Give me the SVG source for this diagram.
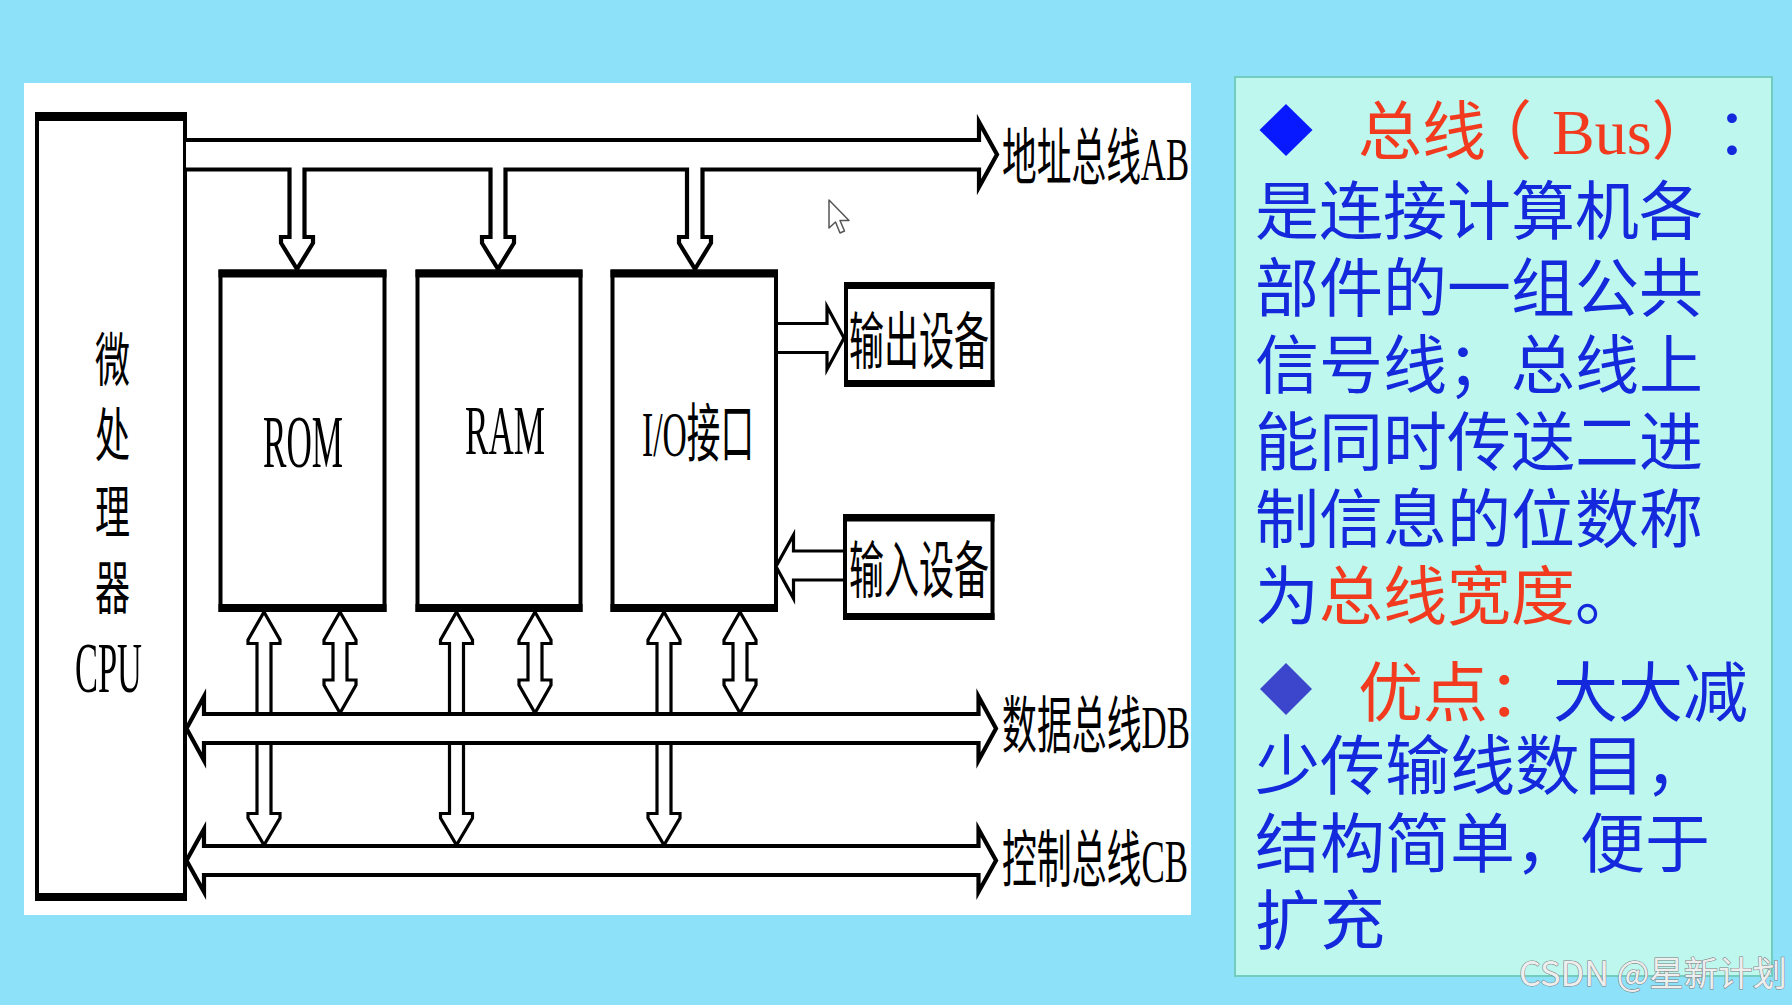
<svg xmlns="http://www.w3.org/2000/svg" width="1792" height="1005" viewBox="0 0 1792 1005">
<defs>
<style>
.ln{fill:#fff;stroke:#000;stroke-width:3.2;stroke-linejoin:miter;stroke-miterlimit:10}
.bus{fill:#fff;stroke:#000;stroke-width:4.2;stroke-linejoin:miter;stroke-miterlimit:10}
.box{fill:#fff;stroke:#000;stroke-width:4}
.bar{fill:#000}
.lbl{font-family:"Liberation Serif","Noto Sans CJK SC",serif;fill:#000}
.txt{font-family:"Noto Sans CJK SC",sans-serif;font-size:64px;fill:#1428DC}
.red{fill:#F23A1E}
</style>
</defs>
<rect x="0" y="0" width="1792" height="1005" fill="#8DE2FA"/>
<rect x="24" y="83" width="1167" height="832" fill="#fff"/>

<g id="node-cpu">
<rect class="box" x="37" y="114" width="148" height="785"/>
<rect class="bar" x="35" y="112" width="152" height="9"/>
<rect class="bar" x="35" y="893" width="152" height="8"/>
<text class="lbl" x="95" y="381" font-size="58" textLength="35" lengthAdjust="spacingAndGlyphs">微</text>
<text class="lbl" x="95" y="456" font-size="58" textLength="35" lengthAdjust="spacingAndGlyphs">处</text>
<text class="lbl" x="95" y="533" font-size="58" textLength="35" lengthAdjust="spacingAndGlyphs">理</text>
<text class="lbl" x="95" y="609" font-size="58" textLength="35" lengthAdjust="spacingAndGlyphs">器</text>
<text class="lbl" x="75" y="692" font-size="71" textLength="67" lengthAdjust="spacingAndGlyphs">CPU</text>
</g>

<g id="node-rom">
<rect class="box" x="220.5" y="271.5" width="164" height="338.5"/>
<rect class="bar" x="218.5" y="269.5" width="168" height="8"/>
<rect class="bar" x="218.5" y="604" width="168" height="8"/>
<text class="lbl" x="263" y="467" font-size="74" textLength="80" lengthAdjust="spacingAndGlyphs">ROM</text>
</g>

<g id="node-ram">
<rect class="box" x="417.5" y="271.5" width="163" height="338.5"/>
<rect class="bar" x="415.5" y="269.5" width="167" height="8"/>
<rect class="bar" x="415.5" y="604" width="167" height="8"/>
<text class="lbl" x="465" y="454" font-size="70" textLength="80" lengthAdjust="spacingAndGlyphs">RAM</text>
</g>

<g id="node-io">
<rect class="box" x="612.5" y="271.5" width="163.5" height="338.5"/>
<rect class="bar" x="610.5" y="269.5" width="167.5" height="8"/>
<rect class="bar" x="610.5" y="604" width="167.5" height="8"/>
<text class="lbl" x="642" y="456" font-size="64" textLength="112" lengthAdjust="spacingAndGlyphs">I/O接口</text>
</g>

<g id="node-output">
<rect class="box" x="846" y="284" width="146.5" height="101"/>
<rect class="bar" x="844" y="282" width="150.5" height="7"/>
<rect class="bar" x="844" y="380" width="150.5" height="7"/>
<text class="lbl" x="849" y="364" font-size="62" textLength="140" lengthAdjust="spacingAndGlyphs">输出设备</text>
</g>

<g id="node-input">
<rect class="box" x="845" y="516" width="147.5" height="102"/>
<rect class="bar" x="843" y="514" width="151.5" height="7.5"/>
<rect class="bar" x="843" y="613" width="151.5" height="7"/>
<text class="lbl" x="849" y="593" font-size="62" textLength="140" lengthAdjust="spacingAndGlyphs">输入设备</text>
</g>

<g id="connectors">
<path class="ln" d="M264,612 L280,640 V643.5 H271 V813.5 H280 V818 L264,845 L248,818 V813.5 H257 V643.5 H248 V640 Z"/>
<path class="ln" d="M456.5,612 L472.5,640 V643.5 H463.5 V813.5 H472.5 V818 L456.5,845 L440.5,818 V813.5 H449.5 V643.5 H440.5 V640 Z"/>
<path class="ln" d="M664,612 L680,640 V643.5 H671 V813.5 H680 V818 L664,845 L648,818 V813.5 H657 V643.5 H648 V640 Z"/>
<path class="ln" d="M340,612 L356,640 V643.5 H347 V680 H356 V685 L340,713 L324,685 V680 H333 V643.5 H324 V640 Z"/>
<path class="ln" d="M535,612 L551,640 V643.5 H542 V680 H551 V685 L535,713 L519,685 V680 H528 V643.5 H519 V640 Z"/>
<path class="ln" d="M740,612 L756,640 V643.5 H747 V680 H756 V685 L740,713 L724,685 V680 H733 V643.5 H724 V640 Z"/>
<path class="bus" d="M204,714 H978.5 V696.5 L996,728.5 L978.5,760.5 V743 H204 V760.5 L186.5,728.5 L204,696.5 Z"/>
<path class="bus" d="M204,846 H978.5 V829 L996,860.5 L978.5,892 V875 H204 V892 L186.5,860.5 L204,829 Z"/>
<path class="bus" d="M186,169.5 H289.5 V237 H281 V243 L297,269 L313,243 V237 H304.5 V169.5 H490.5 V237 H482 V243 L498,269 L514,243 V237 H505.5 V169.5 H687 V237 H679 V243 L695,269 L711,243 V237 H702.5 V169.5 H979 V187 L997,154.5 L979,122 V140 H186"/>
<path class="ln" d="M778,323.5 H827 V306.5 L844,338 L827,369.5 V352.5 H778"/>
<path class="ln" d="M843,551 H793.5 V535 L776,566.5 L793.5,598.5 V580 H843"/>
<text class="lbl" font-size="62" transform="matrix(0.56,0,0,1,1002,180)">地址总线AB</text>
<text class="lbl" font-size="62" transform="matrix(0.563,0,0,1,1002,748)">数据总线DB</text>
<text class="lbl" font-size="62" transform="matrix(0.5625,0,0,1,1002,882)">控制总线CB</text>
</g>

<g id="cursor">
<path d="M829,200 V228 L835.5,222 L840,233 L844.5,231 L840,220.5 L849,220.5 Z" fill="#fff" stroke="#555" stroke-width="1.5" stroke-linejoin="round"/>
</g>

<g id="info-panel">
<rect x="1235" y="77" width="537" height="899" fill="#BDF7EE" stroke="#72CDBE" stroke-width="2"/>
<polygon points="1286,104 1312.5,130 1286,156 1259.5,130" fill="#0818FF"/>
<text font-family="Liberation Serif, Noto Sans CJK SC, serif" font-size="64" fill="#F23A1E" x="1358 1422 1468 1552" y="154">总线（Bus）<tspan x="1716" fill="#1428DC" font-family="Noto Sans CJK SC, sans-serif">：</tspan></text>
<text class="txt" x="1255" y="234">是连接计算机各</text>
<text class="txt" x="1255" y="311">部件的一组公共</text>
<text class="txt" x="1255" y="388">信号线；总线上</text>
<text class="txt" x="1255" y="465">能同时传送二进</text>
<text class="txt" x="1255" y="542">制信息的位数称</text>
<text class="txt" x="1255" y="619">为<tspan class="red">总线宽度</tspan>。</text>
<polygon points="1286,663 1312,689 1286,715 1260,689" fill="#3C46CC"/>
<text class="txt" x="1358" y="716" style="font-size:65px"><tspan class="red">优点：</tspan>大大减</text>
<text class="txt" x="1255" y="789" style="font-size:65px">少传输线数目，</text>
<text class="txt" x="1255" y="867" style="font-size:65px">结构简单，便于</text>
<text class="txt" x="1255" y="944" style="font-size:65px">扩充</text>
</g>

<text x="1519" y="986" font-family="Noto Sans CJK SC, sans-serif" font-size="34" fill="#eeeeee" stroke="#7a7a7a" stroke-width="1" paint-order="stroke" textLength="268" lengthAdjust="spacingAndGlyphs">CSDN @星新计划</text>
</svg>
